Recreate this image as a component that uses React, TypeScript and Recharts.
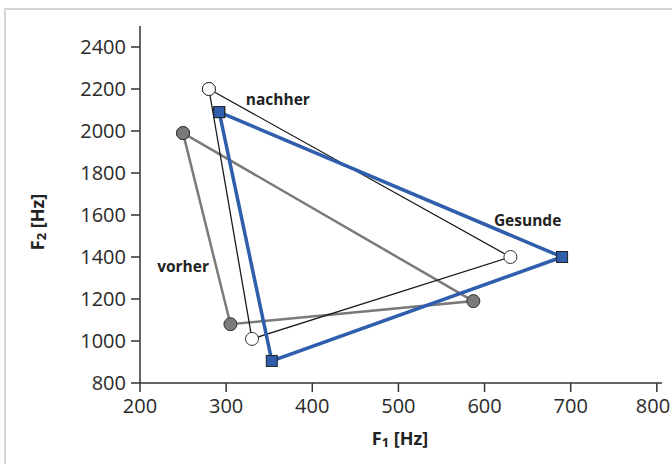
import React from 'react';
import { ScatterChart, Scatter, XAxis, YAxis, ReferenceDot } from 'recharts';

// F1/F2 vowel triangles: /i/, /a/, /u/ corners, closed by repeating the first point
const vorherF1 = [250, 587, 305, 250];
const vorherF2 = [1990, 1190, 1080, 1990];
const nachherF1 = [280, 630, 330, 280];
const nachherF2 = [2200, 1400, 1010, 2200];
const gesundeF1 = [292, 690, 353, 292];
const gesundeF2 = [2090, 1400, 905, 2090];

const xTicks = [200, 300, 400, 500, 600, 700, 800];
const yTicks = [800, 1000, 1200, 1400, 1600, 1800, 2000, 2200, 2400];

const labelNames = ['nachher', 'Gesunde', 'vorher'];
const labelF1 = [360, 650, 250];
const labelF2 = [2148, 1576, 1357];

const FONT = '"Open Sans", "Noto Sans", sans-serif';
const AXIS = '#333333';
const BLUE = '#2f5eac';
const GREY = '#7a7a7a';

const zip = (xs: number[], ys: number[]) => xs.map((x, i) => ({ x, y: ys[i] }));

const vorher = zip(vorherF1, vorherF2);
const nachher = zip(nachherF1, nachherF2);
const gesunde = zip(gesundeF1, gesundeF2);
const labels = labelNames.map((name, i) => ({ name, x: labelF1[i], y: labelF2[i] }));

const Circle = (fill: string) => (p: any) => (
  <circle cx={p.cx} cy={p.cy} r={6.5} fill={fill} stroke="#333" strokeWidth={1} />
);

const Square = (p: any) => (
  <rect x={p.cx - 5.5} y={p.cy - 5.5} width={11} height={11} fill={BLUE} stroke="#222" strokeWidth={1} />
);

// keep the last x label inside the picture
const XTick = (p: any) => {
  const shift = Math.min(0, 670 - (p.x + 17));
  return (
    <text x={p.x + shift} y={p.y} dy={16} textAnchor="middle" fontFamily={FONT} fontSize={20} fill="#2a2a2a">
      {p.payload.value}
    </text>
  );
};

const AxisTitle = ({ cx, cy, sub, rotate }: { cx: number; cy: number; sub: string; rotate?: boolean }) => (
  <text
    x={cx}
    y={cy}
    textAnchor="middle"
    dominantBaseline="central"
    transform={rotate ? `rotate(-90 ${cx} ${cy})` : undefined}
    fontFamily={FONT}
    fontWeight={700}
    fontSize={18}
    fill="#222"
  >
    F<tspan fontSize={13} dy={4}>{sub}</tspan>
    <tspan dy={-4}> [Hz]</tspan>
  </text>
);

export default function App() {
  const tick = { fontFamily: FONT, fontSize: 20, fill: '#2a2a2a' };

  return (
    <div style={{ position: 'absolute', left: 0, top: 0, width: 672, height: 464, background: '#fff' }}>
      <div
        style={{
          position: 'absolute',
          left: 4,
          top: 8,
          right: 0,
          bottom: 0,
          borderTop: '2px solid #d6d6d6',
          borderLeft: '2px solid #d6d6d6',
        }}
      />
      <div style={{ position: 'absolute', left: 0, top: 0 }}>
        <ScatterChart width={672} height={464} margin={{ top: 26, right: 10, bottom: 41, left: 60 }}>
          <XAxis
            type="number"
            dataKey="x"
            domain={[200, 806]}
            ticks={xTicks}
            allowDataOverflow
            height={40}
            stroke={AXIS}
            strokeWidth={1.5}
            tickSize={9}
            tickMargin={5}
            tick={<XTick />}
            label={{ content: ({ viewBox }: any) => <AxisTitle cx={viewBox.x + viewBox.width / 2 - 1} cy={438} sub="1" /> }}
          />
          <YAxis
            type="number"
            dataKey="y"
            domain={[800, 2500]}
            ticks={yTicks}
            allowDataOverflow
            width={80}
            stroke={AXIS}
            strokeWidth={1.5}
            tickSize={9}
            tickMargin={5}
            tick={tick}
            label={{ content: () => <AxisTitle cx={37} cy={222} sub="2" rotate /> }}
          />
          <Scatter
            data={vorher}
            line={{ stroke: GREY, strokeWidth: 2.5 }}
            shape={Circle(GREY)}
            isAnimationActive={false}
          />
          <Scatter
            data={nachher}
            line={{ stroke: '#1a1a1a', strokeWidth: 1.3 }}
            shape={Circle('#ffffff')}
            isAnimationActive={false}
          />
          <Scatter
            data={gesunde}
            line={{ stroke: BLUE, strokeWidth: 3.5 }}
            shape={Square}
            isAnimationActive={false}
          />
          {labels.map(l => (
            <ReferenceDot
              key={l.name}
              x={l.x}
              y={l.y}
              r={0}
              stroke="none"
              fill="none"
              label={{
                value: l.name,
                position: 'center',
                fontFamily: FONT,
                fontWeight: 700,
                fontSize: 15.5,
                fill: '#222',
              }}
            />
          ))}
        </ScatterChart>
      </div>
    </div>
  );
}
